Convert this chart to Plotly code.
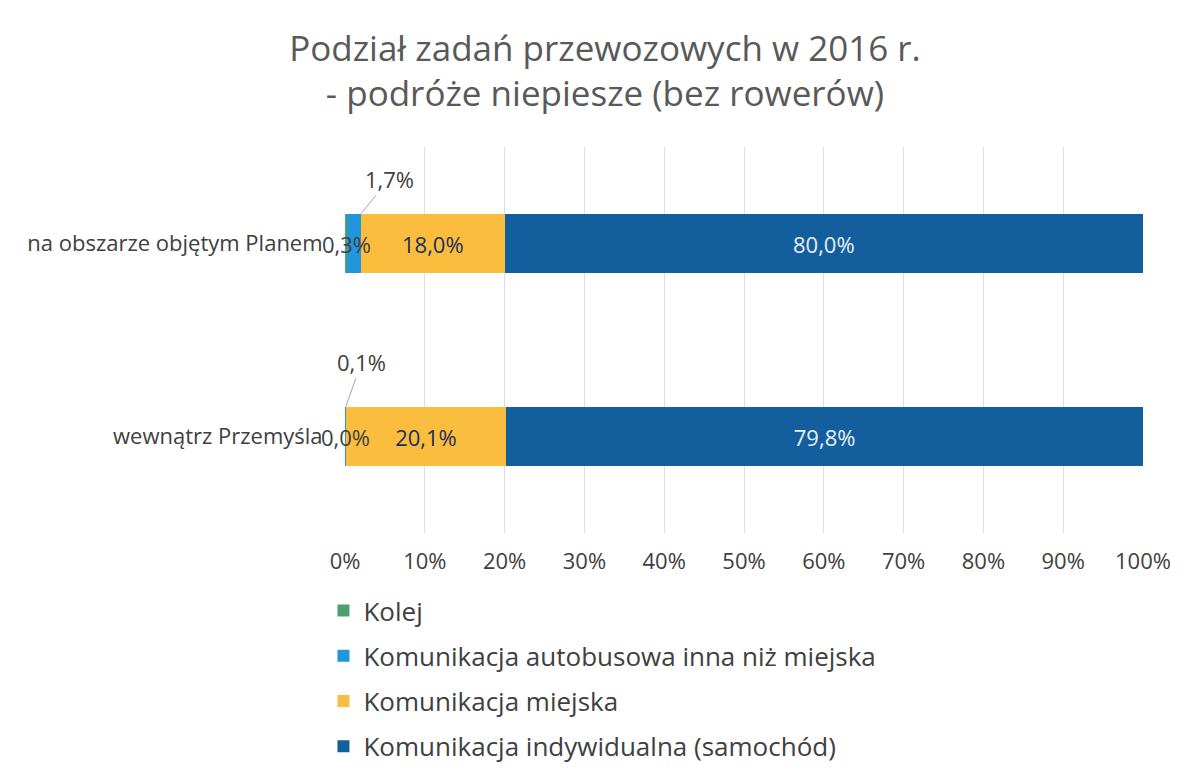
import plotly.graph_objects as go

categories = ["wewnątrz Przemyśla", "na obszarze objętym Planem"]
series_names = ["Kolej", "Komunikacja autobusowa inna niż miejska",
                "Komunikacja miejska", "Komunikacja indywidualna (samochód)"]
kolej = [0.0, 0.3]
autobus = [0.1, 1.7]
miejska = [20.1, 18.0]
indywidualna = [79.8, 80.0]
tick_vals = [0, 10, 20, 30, 40, 50, 60, 70, 80, 90, 100]
tick_text = ["0%", "10%", "20%", "30%", "40%", "50%", "60%", "70%", "80%", "90%", "100%"]

colors = ["#4c9f6e", "#2196db", "#fbbd3d", "#135f9e"]
FONT = "Open Sans"

def fmt(v):
    return f"{v:.1f}".replace(".", ",") + "%"

fig = go.Figure()
all_vals = [kolej, autobus, miejska, indywidualna]
text_colors = [None, None, "#1c2f5c", "#e9eef5"]
for i, (name, vals) in enumerate(zip(series_names, all_vals)):
    show_text = i >= 2
    fig.add_trace(go.Bar(
        y=categories, x=vals, name=name, orientation="h",
        marker=dict(color=colors[i], line=dict(width=0)),
        text=[fmt(v) for v in vals] if show_text else None,
        textposition="inside" if show_text else "none",
        insidetextanchor="middle",
        textfont=dict(color=text_colors[i] or "#404040", size=22, family=FONT),
        legendgroup=f"g{i}",
        hoverinfo="skip",
    ))

bar_width = 0.31
# Kolej labels centred on their segment
for ci, cat in enumerate(categories):
    fig.add_annotation(x=kolej[ci] / 2, y=cat, text=fmt(kolej[ci]), showarrow=False,
                       font=dict(size=22, color="#404040", family=FONT))
# bus labels as callouts
offsets = [(16, -45), (29, -35)]
for ci, cat in enumerate(categories):
    xend = kolej[ci] + autobus[ci]
    fig.add_annotation(x=xend, y=ci + bar_width / 2, xref="x", yref="y",
                       text=fmt(autobus[ci]), showarrow=True, arrowhead=0,
                       arrowwidth=1, arrowcolor="#a6a6a6",
                       ax=offsets[ci][0], ay=offsets[ci][1], standoff=0,
                       font=dict(size=22, color="#404040", family=FONT))

fig.update_layout(
    barmode="stack",
    bargap=0.69,
    width=1181, height=774,
    paper_bgcolor="white", plot_bgcolor="white",
    margin=dict(l=337, r=46, t=139, b=245),
    font=dict(family=FONT, color="#404040"),
    title=dict(text="Podział zadań przewozowych w 2016 r.<br>- podróże niepiesze (bez rowerów)",
               x=0.5055, xanchor="center", y=0.932, yanchor="top",
               font=dict(size=35, color="#595959", family=FONT)),
    xaxis=dict(range=[0, 100], tickvals=tick_vals, ticktext=tick_text,
               showgrid=True, gridcolor="#dedede", gridwidth=1, zeroline=False,
               showline=False, tickfont=dict(size=22, color="#404040"),
               ticks="outside", ticklen=9, tickcolor="rgba(0,0,0,0)"),
    yaxis=dict(showgrid=False, zeroline=False, showline=False,
               tickfont=dict(size=22, color="#404040"),
               ticks="outside", ticklen=17, tickcolor="rgba(0,0,0,0)"),
    legend=dict(orientation="v", x=-0.027, xanchor="left", y=-0.140, yanchor="top",
                traceorder="grouped", tracegroupgap=8.5,
                font=dict(size=26, color="#404040", family=FONT),
                itemwidth=30),
    showlegend=True,
)

fig.write_html("out.html")
